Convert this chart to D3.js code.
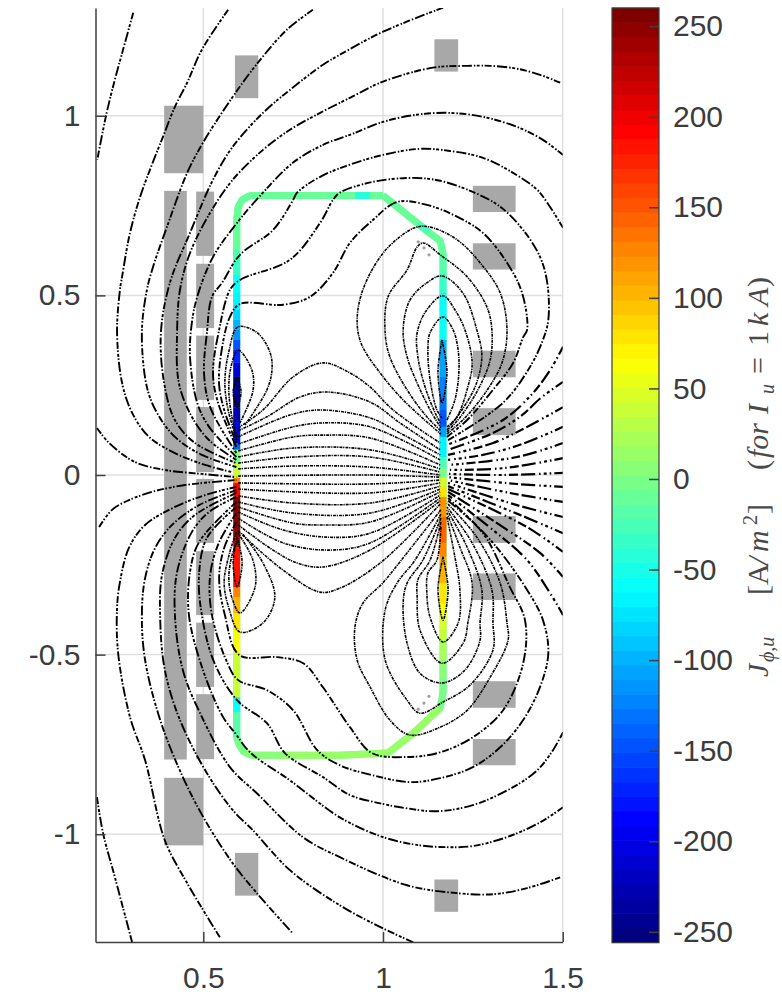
<!DOCTYPE html>
<html lang="en">
<head>
<meta charset="UTF-8">
<title>Vessel current density</title>
<script src="https://cdnjs.cloudflare.com/ajax/libs/d3/7.8.5/d3.min.js"></script>
<style>
    html, body { margin: 0; padding: 0; background: #fff; }
    svg { display: block; }
    .axis text { font-family: "Liberation Sans", Arial, sans-serif; font-size: 30px; fill: #3c3c3c; }
    .axis path, .axis line { stroke: #404040; stroke-width: 1.5px; }
    .math { font-family: "Liberation Serif", serif; fill: #4a4a4a; }
</style>
</head>
<body>
<svg id="chart" width="782" height="994"></svg>
<script>
    const xTicks = [0.5, 1, 1.5];
    const yTicks = [-1, -0.5, 0, 0.5, 1];
    const barTicks = [-250, -200, -150, -100, -50, 0, 50, 100, 150, 200, 250];
    const jetStops = [0, 0.125, 0.375, 0.625, 0.875, 1];
    const jetColors = ["#000080", "#0000ff", "#00ffff", "#ffff00", "#ff0000", "#800000"];

    // coils: x0, x1, y0, y1
    const coilX0 = [0.588, 0.391, 0.391, 0.480, 0.480, 0.480, 0.480, 0.480, 0.480, 0.480, 0.480, 0.391, 0.588, 1.143, 1.143, 1.250, 1.250, 1.250, 1.250, 1.250, 1.250, 1.250, 1.250];
    const coilX1 = [0.653, 0.500, 0.454, 0.530, 0.530, 0.530, 0.530, 0.530, 0.530, 0.530, 0.530, 0.500, 0.653, 1.209, 1.209, 1.369, 1.369, 1.369, 1.369, 1.369, 1.369, 1.369, 1.369];
    const coilY0 = [1.168, 1.028, 0.791, 0.789, 0.588, 0.388, 0.189, -0.011, -0.212, -0.411, -0.610, -0.843, -1.052, 1.213, -1.126, 0.805, 0.645, 0.346, 0.186, -0.114, -0.274, -0.574, -0.735];
    const coilY1 = [1.049, 0.840, -0.792, 0.610, 0.409, 0.209, 0.008, -0.189, -0.390, -0.590, -0.791, -1.031, -1.171, 1.123, -1.216, 0.732, 0.572, 0.272, 0.111, -0.189, -0.348, -0.648, -0.808];

    // vessel wall outline with current density of the segment starting at each point
    const wallX = [1.000, 0.964, 0.922, 0.800, 0.700, 0.630, 0.608, 0.597, 0.593, 0.593, 0.593, 0.593, 0.593, 0.593, 0.593, 0.593, 0.593, 0.593, 0.593, 0.593, 0.593, 0.593, 0.593, 0.593, 0.593, 0.593, 0.593, 0.593, 0.593, 0.593, 0.593, 0.593, 0.593, 0.593, 0.593, 0.593, 0.593, 0.593, 0.593, 0.600, 0.612, 0.635, 0.722, 0.880, 1.014, 1.084, 1.159, 1.167, 1.167, 1.167, 1.167, 1.167, 1.167, 1.167, 1.167, 1.167, 1.167, 1.167, 1.167, 1.167, 1.167, 1.167, 1.167, 1.167, 1.167, 1.167, 1.167, 1.167, 1.167, 1.167, 1.167, 1.167, 1.167, 1.167, 1.159, 1.125, 1.097, 1.000];
    const wallY = [0.778, 0.778, 0.778, 0.778, 0.778, 0.778, 0.766, 0.746, 0.710, 0.627, 0.593, 0.557, 0.507, 0.460, 0.432, 0.404, 0.376, 0.348, 0.312, 0.273, 0.189, 0.145, 0.089, 0.070, 0.050, 0.033, -0.008, -0.022, -0.061, -0.173, -0.201, -0.312, -0.340, -0.384, -0.432, -0.496, -0.618, -0.660, -0.730, -0.752, -0.770, -0.780, -0.780, -0.780, -0.774, -0.719, -0.649, -0.607, -0.563, -0.515, -0.460, -0.432, -0.404, -0.357, -0.301, -0.228, -0.189, -0.117, -0.061, -0.033, -0.006, 0.022, 0.050, 0.106, 0.134, 0.181, 0.217, 0.273, 0.348, 0.376, 0.404, 0.507, 0.563, 0.615, 0.652, 0.677, 0.700, 0.778];
    const wallJ = [-12, -40, -12, -11, -10, -12, -12, -12, -12, -25, -38, -55, -65, -80, -100, -115, -145, -175, -210, -245, -225, -185, -140, 10, 0, 40, 130, 190, 250, 225, 180, 130, 100, 80, 62, 35, -60, -20, 0, 0, 3, 5, 14, 18, 16, 15, -2, -3, 5, 20, 35, 50, 62, 80, 100, 130, 140, 115, 75, 45, -5, -30, -70, -110, -150, -135, -125, -105, -95, -60, -62, -35, -15, -12, -12, -30, -12, -12];

    const dotX = [1.098, 1.114, 1.128, 1.128, 1.114, 1.098];
    const dotY = [0.649, 0.632, 0.613, -0.616, -0.635, -0.652];

    // flux contours outside and around the wall: [xs, ys]
    const outerCurves = [
        [[0.305, 0.277, 0.254, 0.231, 0.205], [1.287, 1.185, 1.101, 1.008, 0.878]],
        [[0.204, 0.221, 0.254, 0.302], [-0.897, -0.997, -1.120, -1.301]],
        [[0.204, 0.238, 0.310, 0.393, 0.496, 0.592], [0.131, 0.089, 0.036, 0.014, 0.003, -0.006]],
        [[0.210, 0.246, 0.293, 0.357, 0.449, 0.592], [-0.145, -0.097, -0.070, -0.047, -0.028, -0.014]],
        [[0.569, 0.496, 0.455, 0.421, 0.388, 0.357, 0.324, 0.296, 0.274, 0.268, 0.260, 0.274, 0.302, 0.349, 0.421, 0.505, 0.580], [1.295, 1.184, 1.092, 1.025, 0.942, 0.864, 0.774, 0.674, 0.552, 0.515, 0.396, 0.256, 0.173, 0.106, 0.061, 0.028, 0.008]],
        [[0.805, 0.733, 0.652, 0.582, 0.499, 0.455, 0.399, 0.360, 0.343, 0.329, 0.343, 0.371, 0.421, 0.496, 0.592], [1.295, 1.240, 1.148, 1.053, 0.925, 0.841, 0.691, 0.579, 0.515, 0.396, 0.245, 0.173, 0.106, 0.056, 0.022]],
        [[1.167, 1.000, 0.880, 0.833, 0.741, 0.666, 0.582, 0.527, 0.463, 0.407, 0.382, 0.391, 0.421, 0.477, 0.592], [1.301, 1.234, 1.170, 1.142, 1.072, 1.008, 0.914, 0.822, 0.674, 0.535, 0.396, 0.256, 0.153, 0.089, 0.033]],
        [[1.493, 1.437, 1.373, 1.298, 1.234, 1.139, 1.000, 0.908, 0.825, 0.741, 0.666, 0.582, 0.519, 0.463, 0.435, 0.427, 0.432, 0.468, 0.516, 0.592], [1.092, 1.114, 1.131, 1.139, 1.139, 1.134, 1.095, 1.050, 1.008, 0.961, 0.905, 0.822, 0.730, 0.618, 0.515, 0.396, 0.256, 0.162, 0.097, 0.042]],
        [[1.501, 1.445, 1.373, 1.278, 1.186, 1.094, 1.000, 0.908, 0.833, 0.749, 0.666, 0.594, 0.527, 0.483, 0.468, 0.463, 0.483, 0.516, 0.592], [0.891, 0.933, 0.969, 0.997, 1.008, 1.003, 0.983, 0.947, 0.919, 0.869, 0.786, 0.702, 0.607, 0.496, 0.423, 0.329, 0.201, 0.134, 0.050]],
        [[1.501, 1.457, 1.429, 1.362, 1.278, 1.186, 1.103, 1.000, 0.908, 0.825, 0.761, 0.750, 0.694, 0.602, 0.552, 0.524, 0.510, 0.502, 0.519, 0.592], [0.688, 0.758, 0.794, 0.841, 0.883, 0.902, 0.908, 0.891, 0.864, 0.830, 0.786, 0.766, 0.682, 0.613, 0.535, 0.496, 0.396, 0.284, 0.189, 0.061]],
        [[1.181, 1.334, 1.409, 1.445, 1.460, 1.457, 1.437, 1.390, 1.326, 1.250, 1.159, 1.084, 0.972, 0.880, 0.861, 0.825, 0.741, 0.602, 0.574, 0.544, 0.527, 0.541, 0.592], [0.097, 0.201, 0.301, 0.376, 0.432, 0.535, 0.607, 0.682, 0.747, 0.788, 0.819, 0.827, 0.816, 0.786, 0.766, 0.702, 0.599, 0.543, 0.515, 0.404, 0.284, 0.201, 0.078]],
        [[0.592, 0.505, 0.421, 0.338, 0.293, 0.268, 0.260, 0.263, 0.296, 0.338, 0.393, 0.455, 0.505, 0.546], [-0.033, -0.056, -0.089, -0.139, -0.203, -0.298, -0.370, -0.496, -0.674, -0.794, -1.017, -1.136, -1.220, -1.287]],
        [[0.592, 0.488, 0.413, 0.366, 0.338, 0.329, 0.338, 0.380, 0.443, 0.505, 0.582, 0.649, 0.749], [-0.042, -0.084, -0.139, -0.203, -0.287, -0.390, -0.515, -0.682, -0.841, -0.961, -1.081, -1.164, -1.276]],
        [[0.592, 0.477, 0.421, 0.385, 0.380, 0.393, 0.435, 0.510, 0.582, 0.638, 0.741, 0.880, 1.000, 1.084], [-0.050, -0.111, -0.175, -0.279, -0.398, -0.543, -0.682, -0.830, -0.933, -0.989, -1.100, -1.198, -1.262, -1.301]],
        [[0.592, 0.516, 0.468, 0.427, 0.421, 0.443, 0.491, 0.574, 0.649, 0.777, 0.880, 1.067, 1.206, 1.306, 1.401, 1.493], [-0.061, -0.103, -0.159, -0.270, -0.390, -0.543, -0.663, -0.813, -0.886, -1.008, -1.064, -1.142, -1.164, -1.167, -1.150, -1.120]],
        [[0.592, 0.488, 0.463, 0.460, 0.499, 0.555, 0.589, 0.630, 0.741, 0.880, 1.000, 1.103, 1.178, 1.250, 1.345, 1.437, 1.501], [-0.075, -0.187, -0.270, -0.390, -0.543, -0.674, -0.719, -0.772, -0.850, -0.953, -1.008, -1.031, -1.036, -1.033, -1.008, -0.967, -0.925]],
        [[0.592, 0.510, 0.488, 0.496, 0.530, 0.594, 0.677, 0.727, 0.833, 0.908, 0.992, 1.067, 1.150, 1.250, 1.362, 1.429, 1.473, 1.501], [-0.089, -0.175, -0.279, -0.390, -0.521, -0.627, -0.691, -0.774, -0.841, -0.891, -0.914, -0.928, -0.936, -0.919, -0.869, -0.822, -0.766, -0.716]],
        [[0.592, 0.544, 0.519, 0.524, 0.566, 0.597, 0.677, 0.750, 0.817, 0.880, 0.972, 1.075, 1.159, 1.250, 1.326, 1.390, 1.437, 1.460, 1.445, 1.401, 1.306, 1.181], [-0.106, -0.187, -0.279, -0.390, -0.521, -0.571, -0.599, -0.655, -0.766, -0.808, -0.836, -0.855, -0.844, -0.813, -0.758, -0.682, -0.590, -0.496, -0.404, -0.320, -0.189, -0.064]],
        [[0.592, 0.558, 0.544, 0.560, 0.600, 0.706, 0.778, 0.833, 0.908, 0.969, 1.067, 1.159, 1.250, 1.334, 1.390, 1.395, 1.353, 1.278, 1.181], [-0.131, -0.203, -0.287, -0.390, -0.501, -0.507, -0.524, -0.591, -0.702, -0.774, -0.785, -0.772, -0.730, -0.655, -0.524, -0.404, -0.312, -0.162, -0.072]],
        [[1.178, 1.234, 1.306, 1.362, 1.390, 1.401, 1.387, 1.345, 1.278, 1.206, 1.122, 1.039, 0.972, 0.908, 0.861, 0.797, 0.722, 0.602, 0.574, 0.549, 0.544, 0.558, 0.592], [0.106, 0.153, 0.237, 0.312, 0.384, 0.404, 0.507, 0.591, 0.674, 0.719, 0.752, 0.760, 0.710, 0.646, 0.563, 0.496, 0.474, 0.476, 0.440, 0.334, 0.251, 0.181, 0.089]]
    ];

    // contours leaving the outboard wall towards the right edge
    const rightFan = [
        [[1.501, 1.465, 1.417, 1.334, 1.178], [0.357, 0.292, 0.228, 0.153, 0.084]],
        [[1.501, 1.442, 1.381, 1.306, 1.181], [0.259, 0.217, 0.162, 0.117, 0.070]],
        [[1.501, 1.401, 1.306, 1.181], [0.189, 0.134, 0.089, 0.056]],
        [[1.501, 1.381, 1.278, 1.181], [0.134, 0.084, 0.056, 0.042]],
        [[1.501, 1.373, 1.181], [0.089, 0.050, 0.028]],
        [[1.501, 1.334, 1.181], [0.047, 0.019, 0.014]],
        [[1.501, 1.334, 1.181], [0.006, 0.000, 0.003]],
        [[1.501, 1.373, 1.181], [-0.033, -0.025, -0.006]],
        [[1.501, 1.353, 1.181], [-0.075, -0.050, -0.014]],
        [[1.501, 1.373, 1.181], [-0.117, -0.084, -0.022]],
        [[1.501, 1.381, 1.181], [-0.162, -0.111, -0.031]],
        [[1.501, 1.401, 1.181], [-0.214, -0.145, -0.039]],
        [[1.501, 1.437, 1.334, 1.181], [-0.284, -0.217, -0.145, -0.047]],
        [[1.501, 1.465, 1.401, 1.306, 1.181], [-0.390, -0.329, -0.237, -0.153, -0.056]]
    ];

    // contours crossing the plasma region from wall to wall
    const centerFan = [
        [[0.597, 0.666, 0.750, 0.833, 0.908, 0.964, 1.028, 1.159], [0.131, 0.181, 0.273, 0.312, 0.284, 0.245, 0.181, 0.089]],
        [[0.597, 0.677, 0.769, 0.844, 0.964, 1.047, 1.159], [0.123, 0.162, 0.217, 0.231, 0.203, 0.145, 0.070]],
        [[0.597, 0.741, 0.825, 0.964, 1.047, 1.159], [0.106, 0.167, 0.181, 0.159, 0.117, 0.056]],
        [[0.597, 0.750, 0.833, 0.964, 1.159], [0.086, 0.134, 0.145, 0.134, 0.042]],
        [[0.597, 0.750, 0.833, 0.964, 1.159], [0.067, 0.106, 0.111, 0.103, 0.028]],
        [[0.597, 0.750, 0.964, 1.159], [0.050, 0.075, 0.070, 0.017]],
        [[0.597, 0.750, 0.964, 1.159], [0.033, 0.050, 0.050, 0.008]],
        [[0.597, 0.750, 0.964, 1.159], [0.017, 0.025, 0.022, 0.000]],
        [[0.597, 0.964, 1.159], [-0.003, 0.000, -0.006]],
        [[0.597, 0.964, 1.159], [-0.022, -0.025, -0.014]],
        [[0.597, 0.964, 1.159], [-0.039, -0.050, -0.022]],
        [[0.597, 0.750, 0.964, 1.159], [-0.058, -0.078, -0.078, -0.031]],
        [[0.597, 0.750, 0.964, 1.159], [-0.075, -0.106, -0.106, -0.039]],
        [[0.597, 0.750, 0.833, 0.964, 1.159], [-0.089, -0.134, -0.139, -0.131, -0.047]],
        [[0.597, 0.722, 0.844, 0.964, 1.159], [-0.103, -0.153, -0.173, -0.162, -0.056]],
        [[0.597, 0.722, 0.853, 0.964, 1.159], [-0.120, -0.189, -0.209, -0.189, -0.064]],
        [[0.597, 0.694, 0.761, 0.833, 0.964, 1.159], [-0.139, -0.209, -0.245, -0.256, -0.209, -0.072]],
        [[0.597, 0.722, 0.825, 0.880, 0.992, 1.159], [-0.156, -0.265, -0.326, -0.315, -0.245, -0.081]]
    ];

    // closed lobes hugging the two walls
    const wallLobes = [
        [[1.178, 1.228, 1.284, 1.331, 1.345, 1.326, 1.270, 1.206, 1.139, 1.097, 1.047, 0.992, 0.941, 0.928, 0.941, 0.992, 1.056, 1.161], [0.114, 0.159, 0.228, 0.312, 0.404, 0.507, 0.591, 0.655, 0.688, 0.691, 0.663, 0.607, 0.507, 0.423, 0.362, 0.284, 0.209, 0.114]],
        [[1.178, 1.217, 1.264, 1.298, 1.303, 1.289, 1.234, 1.159, 1.112, 1.095, 1.067, 1.014, 1.006, 1.019, 1.067, 1.122, 1.161], [0.120, 0.164, 0.237, 0.320, 0.404, 0.468, 0.552, 0.613, 0.646, 0.635, 0.571, 0.496, 0.396, 0.329, 0.237, 0.162, 0.123]],
        [[1.178, 1.214, 1.256, 1.275, 1.261, 1.222, 1.164, 1.122, 1.075, 1.056, 1.067, 1.095, 1.131, 1.161], [0.125, 0.173, 0.245, 0.329, 0.404, 0.507, 0.554, 0.535, 0.487, 0.404, 0.329, 0.256, 0.181, 0.131]],
        [[1.178, 1.206, 1.236, 1.248, 1.228, 1.200, 1.167, 1.122, 1.095, 1.097, 1.117, 1.145, 1.161], [0.134, 0.162, 0.245, 0.312, 0.404, 0.460, 0.499, 0.460, 0.396, 0.329, 0.245, 0.173, 0.142]],
        [[1.178, 1.200, 1.211, 1.209, 1.195, 1.167, 1.131, 1.125, 1.131, 1.150, 1.164], [0.153, 0.209, 0.284, 0.348, 0.404, 0.440, 0.396, 0.348, 0.265, 0.181, 0.159]],
        [[1.164, 1.153, 1.164, 1.178, 1.164], [0.376, 0.287, 0.201, 0.287, 0.376]],
        [[1.161, 1.047, 0.999, 0.944, 0.922, 0.928, 0.964, 1.019, 1.075, 1.159, 1.234, 1.298, 1.348, 1.345, 1.326, 1.261, 1.178], [-0.097, -0.242, -0.301, -0.357, -0.423, -0.515, -0.590, -0.682, -0.724, -0.702, -0.655, -0.563, -0.460, -0.412, -0.301, -0.173, -0.078]],
        [[1.161, 1.089, 1.039, 1.006, 1.006, 1.067, 1.103, 1.167, 1.242, 1.306, 1.306, 1.303, 1.248, 1.178], [-0.109, -0.237, -0.301, -0.376, -0.515, -0.627, -0.663, -0.632, -0.585, -0.487, -0.412, -0.320, -0.189, -0.089]],
        [[1.161, 1.111, 1.067, 1.056, 1.067, 1.103, 1.164, 1.228, 1.270, 1.270, 1.275, 1.234, 1.178], [-0.120, -0.237, -0.301, -0.357, -0.468, -0.552, -0.579, -0.543, -0.460, -0.412, -0.320, -0.201, -0.097]],
        [[1.161, 1.131, 1.097, 1.095, 1.103, 1.164, 1.223, 1.236, 1.248, 1.214, 1.178], [-0.131, -0.237, -0.292, -0.340, -0.432, -0.524, -0.468, -0.412, -0.301, -0.201, -0.106]],
        [[1.161, 1.150, 1.125, 1.122, 1.131, 1.167, 1.209, 1.214, 1.200, 1.178], [-0.145, -0.237, -0.273, -0.329, -0.396, -0.465, -0.412, -0.320, -0.228, -0.117]],
        [[1.167, 1.153, 1.167, 1.181, 1.167], [-0.228, -0.320, -0.404, -0.320, -0.228]],
        [[0.594, 0.569, 0.560, 0.571, 0.596, 0.650, 0.686, 0.691, 0.677, 0.616], [0.097, 0.181, 0.259, 0.343, 0.412, 0.396, 0.340, 0.292, 0.237, 0.139]],
        [[0.594, 0.580, 0.571, 0.577, 0.597, 0.635, 0.638, 0.602], [0.106, 0.159, 0.237, 0.301, 0.348, 0.292, 0.234, 0.145]],
        [[0.594, 0.583, 0.594, 0.605, 0.594], [0.273, 0.231, 0.189, 0.231, 0.273]],
        [[0.594, 0.583, 0.594, 0.608, 0.594], [-0.173, -0.245, -0.312, -0.245, -0.173]],
        [[0.592, 0.574, 0.558, 0.571, 0.602, 0.666, 0.699, 0.666, 0.608], [-0.159, -0.214, -0.298, -0.370, -0.437, -0.412, -0.340, -0.245, -0.162]],
        [[0.594, 0.580, 0.571, 0.580, 0.602, 0.644, 0.638, 0.597], [-0.187, -0.223, -0.287, -0.343, -0.384, -0.312, -0.237, -0.162]]
    ];

    const svg = d3.select("#chart");
    const x = d3.scaleLinear().domain([0.2, 1.5]).range([95.5, 562.7]);
    const y = d3.scaleLinear().domain([-1.3, 1.3]).range([942, 8]);
    const barY = d3.scaleLinear().domain([-256, 260]).range([942.7, 8]);
    const jet = d3.scaleLinear().domain(jetStops).range(jetColors).interpolate(d3.interpolateRgb);

    // colormap has 64 levels
    const levels = d3.range(64).map(i => -256 + (i + 0.5) * 516 / 64);
    const levelColor = J => jet(Math.max(0, Math.min(63, Math.floor((J + 256) / 516 * 64))) / 63);

    const defs = svg.append("defs");
    defs.append("clipPath").attr("id", "plotClip").append("rect")
        .attr("x", x(0.2)).attr("y", y(1.3)).attr("width", x(1.5) - x(0.2)).attr("height", y(-1.3) - y(1.3));
    defs.append("filter").attr("id", "soft").append("feGaussianBlur").attr("stdDeviation", 0.3);

    // grid
    const grid = svg.append("g").attr("stroke", "#e0e0e0").attr("stroke-width", 1.5);
    grid.selectAll(".gx").data(xTicks).enter().append("line")
        .attr("x1", d => x(d)).attr("x2", d => x(d)).attr("y1", y(1.3)).attr("y2", y(-1.3));
    grid.selectAll(".gy").data(yTicks).enter().append("line")
        .attr("y1", d => y(d)).attr("y2", d => y(d)).attr("x1", x(0.2)).attr("x2", x(1.5));

    // coils
    svg.append("g").selectAll("rect").data(d3.range(coilX0.length)).enter().append("rect")
        .attr("x", i => x(coilX0[i])).attr("width", i => x(coilX1[i]) - x(coilX0[i]))
        .attr("y", i => y(coilY0[i])).attr("height", i => y(coilY1[i]) - y(coilY0[i]))
        .attr("fill", "#a8a8a8");

    // wall, one segment per point
    const wallPoints = d3.zip(wallX, wallY);
    const line = d3.line().x(d => x(d[0])).y(d => y(d[1]));
    svg.append("path").attr("d", line(wallPoints)).attr("fill", "none")
        .attr("stroke", levelColor(-12)).attr("stroke-width", 7).attr("stroke-linejoin", "round");
    svg.append("g").selectAll("line").data(d3.range(wallPoints.length - 1)).enter().append("line")
        .attr("x1", i => x(wallX[i])).attr("y1", i => y(wallY[i]))
        .attr("x2", i => x(wallX[i + 1])).attr("y2", i => y(wallY[i + 1]))
        .attr("stroke", i => levelColor(wallJ[i])).attr("stroke-width", 7);

    // contours
    const curve = d3.line().x(d => x(d[0])).y(d => y(d[1])).curve(d3.curveCatmullRom.alpha(0.5));
    const contours = svg.append("g").attr("clip-path", "url(#plotClip)").append("g")
        .attr("filter", "url(#soft)").attr("fill", "none").attr("stroke", "#000");

    function drawCurves(curves, width, dash) {
        contours.append("g").attr("stroke-width", width).attr("stroke-dasharray", dash)
            .selectAll("path").data(curves).enter().append("path")
            .attr("d", c => curve(d3.zip(c[0], c[1])));
    }
    drawCurves(outerCurves, 1.9, "7 1.5 1.5 2 3 1.5 1.5 2 10 2 1.5 2");
    drawCurves(rightFan, 2.2, "9 3 1.5 3 3 3 1.5 4 14 3");
    drawCurves(centerFan, 1.6, "3 0.8 1.2 1");
    drawCurves(wallLobes, 1.6, "3 0.8 1.2 1");

    svg.append("g").selectAll("circle").data(d3.range(dotX.length)).enter().append("circle")
        .attr("cx", i => x(dotX[i])).attr("cy", i => y(dotY[i])).attr("r", 1.6).attr("fill", "#a0a0a0");

    // axes
    svg.append("g").attr("class", "axis").attr("transform", `translate(0,${y(-1.3)})`)
        .call(d3.axisBottom(x).tickValues(xTicks).tickFormat(String).tickSize(-10).tickSizeOuter(0).tickPadding(25));
    svg.append("g").attr("class", "axis").attr("transform", `translate(${x(0.2)},0)`)
        .call(d3.axisLeft(y).tickValues(yTicks).tickFormat(String).tickSize(-10).tickSizeOuter(0).tickPadding(15));

    // colour bar
    const barX = 612, barW = 47, bandH = (barY(-256) - barY(260)) / 64;
    svg.append("g").selectAll("rect").data(levels).enter().append("rect")
        .attr("x", barX).attr("width", barW).attr("y", d => barY(d) - bandH / 2 - 0.3).attr("height", bandH + 0.6)
        .attr("fill", d => levelColor(d));
    svg.append("rect").attr("x", barX).attr("y", barY(260)).attr("width", barW).attr("height", barY(-256) - barY(260))
        .attr("fill", "none").attr("stroke", "#3c3c3c").attr("stroke-width", 1.2);
    svg.append("g").attr("class", "axis").attr("transform", `translate(${barX + barW},0)`)
        .call(d3.axisRight(barY).tickValues(barTicks).tickFormat(String).tickSize(-10).tickSizeOuter(0).tickPadding(14))
        .call(g => g.select(".domain").remove());

    // colour bar label, placed piece by piece along the rotated baseline
    const labelPieces = [
        ["J", 0, 0, 30, "italic"], ["\u03d5,u", 15, 6, 20, "italic"],
        ["[", 82, 0, 30, "normal"], ["A", 92, 0, 30, "normal"], ["/", 112, 0, 30, "italic"], ["m", 125, 0, 30, "italic"],
        ["2", 152, -11, 20, "normal"], ["]", 163, 0, 30, "normal"],
        ["(", 207, 0, 30, "normal"], ["for", 219, 0, 30, "italic"], ["I", 263, 0, 30, "italic"], ["u", 283, 6, 20, "italic"],
        ["=", 303, 0, 30, "normal"], ["1", 331, 0, 30, "normal"], ["k", 351, 0, 30, "italic"], ["A", 371, 0, 30, "italic"], [")", 390, 0, 30, "normal"]
    ];
    svg.append("g").attr("class", "math").attr("transform", "translate(768,677) rotate(-90)")
        .selectAll("text").data(labelPieces).enter().append("text")
        .attr("x", d => d[1]).attr("y", d => d[2]).attr("font-size", d => d[3]).attr("font-style", d => d[4])
        .text(d => d[0]);
</script>
</body>
</html>
